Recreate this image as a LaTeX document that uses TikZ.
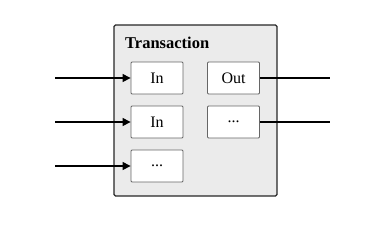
\documentclass[tikz,border=0pt]{standalone}
\usepackage{fontspec}
\setmainfont{Liberation Serif}
\usetikzlibrary{arrows.meta}
\begin{document}
\begin{tikzpicture}[x=1pt,y=-1pt,
  outer/.style={draw=black!85, fill=black!8, line width=1.3pt, rounded corners=1.5pt, minimum width=163pt, minimum height=171pt, inner sep=0pt},
  port/.style={draw=black!60, fill=white, line width=0.8pt, rounded corners=1pt, minimum width=52pt, minimum height=32pt, inner sep=0pt, font=\fontsize{16}{19}\selectfont},
  wire/.style={line width=1.2pt, draw=black},
  intip/.style={-{Triangle[length=8pt,width=8pt]}}]
\useasboundingbox (0,0) rectangle (383,226);
\node[outer] (tx) at (195.5,110.5) {};
\node[anchor=base west, inner sep=0pt, font=\bfseries\fontsize{16.5}{19}\selectfont] (title) at (125,48) {Transaction};
\node[port] (in1) at (157,78) {In};
\node[port] (in2) at (157,122) {In};
\node[port] (in3) at (157,166) {...};
\node[port] (out1) at (233.5,78) {Out};
\node[port] (out2) at (233.5,122) {...};
\coordinate (s1) at (55,78);
\coordinate (s2) at (55,122);
\coordinate (s3) at (55,166);
\coordinate (e1) at (330,78);
\coordinate (e2) at (330,122);
\draw[wire,intip] (s1) -- (in1.west);
\draw[wire,intip] (s2) -- (in2.west);
\draw[wire,intip] (s3) -- (in3.west);
\draw[wire] (out1.east) -- (e1);
\draw[wire] (out2.east) -- (e2);
\end{tikzpicture}
\end{document}
